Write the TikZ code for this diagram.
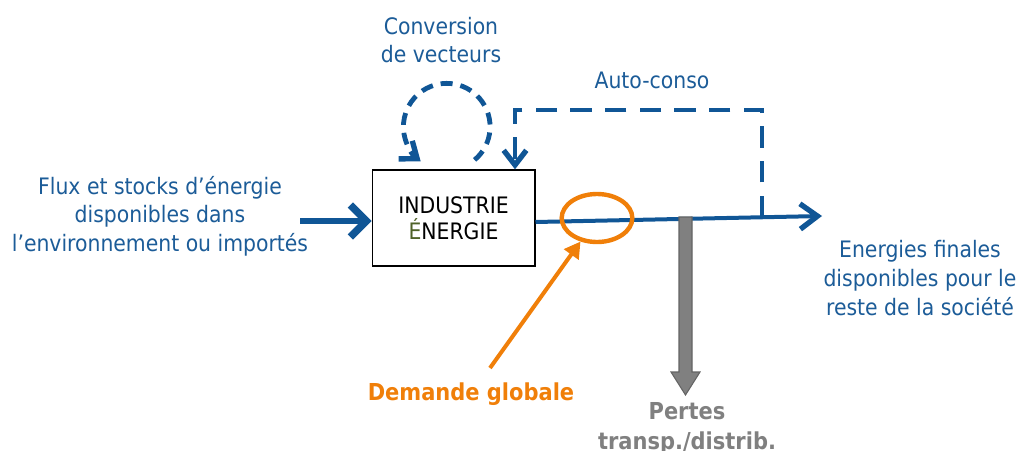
\documentclass[tikz,border=0pt]{standalone}
\usepackage{fontspec}
\setmainfont{DejaVu Sans Condensed}
\usetikzlibrary{arrows.meta,positioning,shapes.geometric,calc}
\definecolor{bleu}{RGB}{16,86,150}
\definecolor{bleuT}{RGB}{28,92,152}
\definecolor{orangeE}{RGB}{240,127,9}
\definecolor{grisE}{RGB}{128,128,128}
\definecolor{grisF}{RGB}{100,100,100}
\definecolor{vertE}{RGB}{79,98,40}
\tikzstyle{texte}=[text=bleuT,align=center,font=\fontsize{17}{21.5}\selectfont,inner sep=0pt]
\tikzstyle{boite}=[draw,line width=1pt,minimum width=122pt,minimum height=72pt,align=center,font=\fontsize{17}{19.5}\selectfont]
\tikzstyle{flux}=[draw=bleu,line width=5pt,-{Straight Barb[length=12pt,width=24pt,line width=5.5pt]}]
\tikzstyle{sortie}=[draw=bleu,line width=3pt,-{Straight Barb[length=13pt,width=19pt,line width=4pt]}]
\tikzstyle{tirets}=[draw=bleu,line width=3.6pt,dash pattern=on 16pt off 10pt]
\tikzstyle{boucle}=[draw=bleu,line width=3.6pt,dash pattern=on 9pt off 6pt]
\tikzstyle{pointe}=[-{Straight Barb[length=11pt,width=17pt,line width=4pt]}]

\begin{document}
\begin{tikzpicture}[x=0.75pt,y=-0.75pt]
\useasboundingbox (0,0) rectangle (1021,450);
% boite centrale
\node [boite] (ind) at (453.5,218) {INDUSTRIE\\{\color{vertE}É}NERGIE};
% textes
\node [texte] (src) at (160,216) {Flux et stocks d’énergie\\disponibles dans\\l’environnement ou importés};
\node [texte] (fin) at (920,278) {Energies finales\\disponibles pour le\\reste de la société};
\node [texte] (conv) at (441,40) {Conversion\\de vecteurs};
\node [texte] (auto) at (652,80) {Auto-conso};
\node [text=orangeE,font=\fontsize{17.5}{21.5}\selectfont\bfseries,inner sep=0pt] (dem) at (471,394) {Demande globale};
\node [text=grisE,font=\fontsize{17.5}{22.5}\selectfont\bfseries,align=center,inner sep=0pt] (pertes) at (687,428) {Pertes\\transp./distrib.};
% flux
\coordinate (in) at (300,221);
\coordinate (out) at (822,216);
\draw [flux] (in) -- (in -| ind.west);
\draw [sortie] ($(ind.east)+(0,4)$) -- (out);
% auto-consommation
\coordinate (ac1) at (762,217);
\coordinate (ac2) at (762,110);
\coordinate (ac3) at (515,110);
\draw [tirets,pointe] (ac1) -- (ac2) -- (ac3) -- (ac3 |- ind.north);
% conversion de vecteurs
\draw [boucle,pointe] (474.6,159.9) arc [start angle=-50,end angle=233,radius=32.5pt];
% pertes
\coordinate (pA) at (685.5,217);
\filldraw [fill=grisE,draw=grisF,line width=0.8pt] ($(pA)+(-6.5,0)$) -- ($(pA)+(6.5,0)$) -- (692,372) -- (700,372) -- (685.5,395) -- (671,372) -- (679,372) -- cycle;
% demande globale
\node [ellipse,draw=orangeE,line width=3.3pt,minimum width=53pt,minimum height=36pt,inner sep=0pt] (zoomD) at (597,218) {};
\draw [orangeE,line width=3pt,-{Triangle[length=12pt,width=13pt]}] (490,368) -- (zoomD.235);
\end{tikzpicture}
\end{document}
